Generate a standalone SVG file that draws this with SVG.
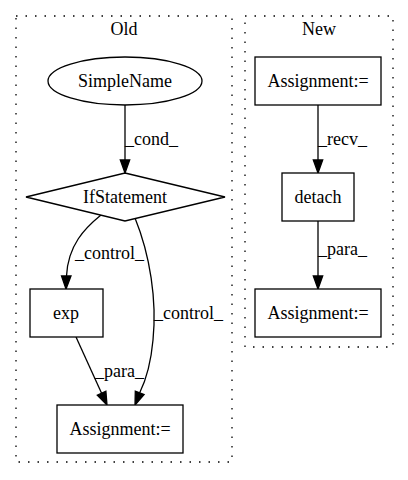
<svg xmlns="http://www.w3.org/2000/svg" width="408" height="480" viewBox="0 0 408 480">
<style>
text{font-family:"Liberation Serif","Times New Roman",serif;font-size:18px;fill:#000}
.c{text-anchor:middle}
.n{fill:#fff;stroke:#000;stroke-width:1.3}
.cl{fill:none;stroke:#000;stroke-width:1.3;stroke-dasharray:1.5,8}
.e{fill:none;stroke:#000;stroke-width:1.3}
.a{fill:#000;stroke:#000;stroke-width:1.3}
</style>
<rect width="408" height="480" fill="#fff"/>
<g id="cluster_old">
<rect class="cl" x="16" y="16" width="216" height="446"/>
<text class="c" x="124" y="35">Old</text>
</g>
<g id="cluster_new">
<rect class="cl" x="245" y="16" width="148" height="331"/>
<text class="c" x="319" y="35">New</text>
</g>
<g id="edges">
<path class="e" d="M125,105 L125,160"/>
<polygon class="a" points="125,173 120.3,160 129.7,160"/>
<text x="125" y="145">_cond_</text>
<path class="e" d="M101,215 C85,228 68,245 66.5,276"/>
<polygon class="a" points="66,289 61.5,276 71,276"/>
<text x="75" y="259">_control_</text>
<path class="e" d="M135,218 C150,255 157,300 153,340 C151,362 146,380 139.7,392.8"/>
<polygon class="a" points="135,405 144.1,394.5 135.3,391.1"/>
<text x="154" y="319">_control_</text>
<path class="e" d="M76,337 L101.6,393.2"/>
<polygon class="a" points="107,405 105.9,391.25 97.3,395.15"/>
<text x="95" y="377">_para_</text>
<path class="e" d="M318,105 L318,160"/>
<polygon class="a" points="318,173 313.3,160 322.7,160"/>
<text x="318" y="145">_recv_</text>
<path class="e" d="M318,221 L318,276"/>
<polygon class="a" points="318,289 313.3,276 322.7,276"/>
<text x="318" y="255">_para_</text>
</g>
<g id="simplename">
<ellipse class="n" cx="125" cy="81" rx="77" ry="24"/>
<text class="c" x="125" y="87">SimpleName</text>
</g>
<g id="ifstatement">
<polygon class="n" points="125,173 225,197 125,221 26,197"/>
<text class="c" x="125" y="203">IfStatement</text>
</g>
<g id="exp">
<rect class="n" x="30" y="289" width="73" height="48"/>
<text class="c" x="66" y="319">exp</text>
</g>
<g id="assign_old">
<rect class="n" x="57" y="405" width="126" height="48"/>
<text class="c" x="120" y="435">Assignment:=</text>
</g>
<g id="assign_new1">
<rect class="n" x="255" y="57" width="126" height="48"/>
<text class="c" x="318" y="87">Assignment:=</text>
</g>
<g id="detach">
<rect class="n" x="282" y="173" width="72" height="48"/>
<text class="c" x="318" y="203">detach</text>
</g>
<g id="assign_new2">
<rect class="n" x="255" y="289" width="126" height="48"/>
<text class="c" x="318" y="319">Assignment:=</text>
</g>
</svg>
